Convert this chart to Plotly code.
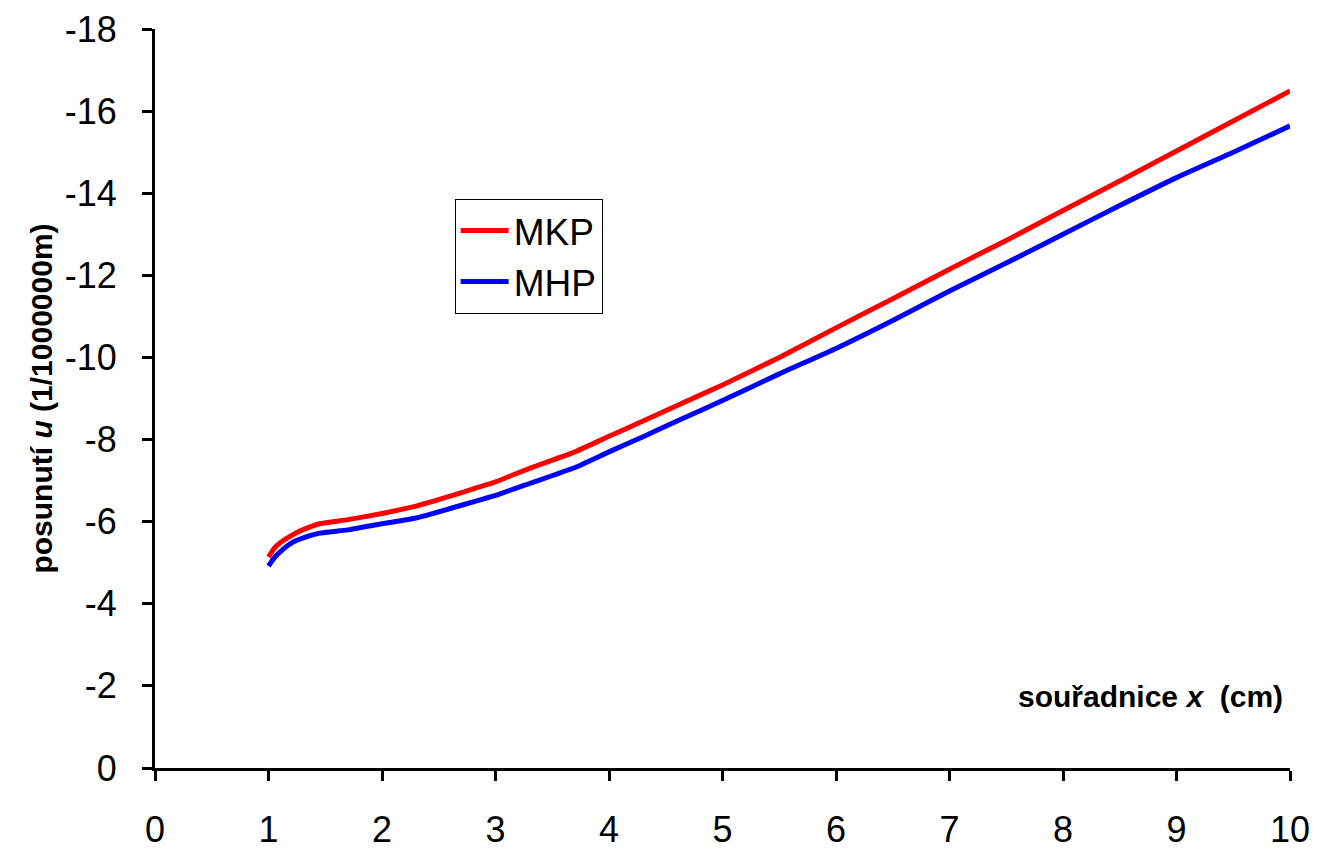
import plotly.graph_objects as go

# data
x_mkp = [1.0, 1.05, 1.1, 1.2, 1.3, 1.45, 1.7, 2.0, 2.3, 2.6, 2.85, 3.0, 3.3, 3.7, 4.0, 4.3, 4.6,
         5.0, 5.5, 6.0, 6.5, 7.0, 7.5, 8.0, 8.5, 9.0, 9.5, 10.0]
u_mkp = [-5.14, -5.35, -5.48, -5.66, -5.80, -5.95, -6.05, -6.20, -6.38, -6.62, -6.84, -6.97, -7.30,
         -7.70, -8.08, -8.45, -8.83, -9.33, -10.00, -10.72, -11.43, -12.15, -12.85, -13.58, -14.30,
         -15.03, -15.76, -16.49]
x_mhp = [1.0, 1.05, 1.1, 1.2, 1.3, 1.45, 1.7, 2.0, 2.3, 2.6, 2.85, 3.0, 3.3, 3.7, 4.0, 4.3, 4.6,
         5.0, 5.5, 6.0, 6.5, 7.0, 7.5, 8.0, 8.5, 9.0, 9.5, 10.0]
u_mhp = [-4.92, -5.12, -5.26, -5.48, -5.60, -5.72, -5.80, -5.95, -6.09, -6.32, -6.52, -6.64, -6.93,
         -7.32, -7.70, -8.07, -8.45, -8.95, -9.60, -10.22, -10.90, -11.62, -12.30, -13.00, -13.70,
         -14.38, -15.00, -15.64]

x_ticks = [0, 1, 2, 3, 4, 5, 6, 7, 8, 9, 10]
y_ticks = [0, -2, -4, -6, -8, -10, -12, -14, -16, -18]
y_ticktext = ["0", "-2", "-4", "-6", "-8", "-10", "-12", "-14", "-16", "-18"]

FONT = "Liberation Sans, Arial, sans-serif"

fig = go.Figure()
fig.add_trace(go.Scatter(x=x_mkp, y=u_mkp, mode="lines", name="MKP",
                         line=dict(color="#FF0000", width=5, shape="spline", smoothing=0.5)))
fig.add_trace(go.Scatter(x=x_mhp, y=u_mhp, mode="lines", name="MHP",
                         line=dict(color="#0000FF", width=5, shape="spline", smoothing=0.5)))

fig.update_layout(
    width=1317, height=849,
    margin=dict(l=155, r=27, t=29, b=81, autoexpand=False),
    paper_bgcolor="white", plot_bgcolor="white",
    font=dict(family=FONT, color="black", size=36),
    showlegend=True,
    legend=dict(x=0.264, y=0.77, xanchor="left", yanchor="top",
                bordercolor="black", borderwidth=1, bgcolor="white",
                font=dict(size=37, family=FONT), tracegroupgap=0,
                itemwidth=48),
    xaxis=dict(range=[0, 10], tickmode="array", tickvals=x_ticks, automargin=False,
               showgrid=False, zeroline=False, showline=True, linecolor="black",
               linewidth=3, ticks="outside", ticklen=10, tickwidth=3, tickcolor="black",
               tickfont=dict(size=36), ticklabelstandoff=18),
    yaxis=dict(range=[0, -18], tickmode="array", tickvals=y_ticks, ticktext=y_ticktext,
               automargin=False,
               showgrid=False, zeroline=False, showline=True, linecolor="black",
               linewidth=3, ticks="outside", ticklen=10, tickwidth=3, tickcolor="black",
               tickfont=dict(size=36), ticklabelstandoff=18),
    annotations=[
        dict(text="souřadnice <i>x</i>  (cm)", xref="paper", yref="y", x=1.0, y=-1.75,
             xanchor="right", yanchor="middle", xshift=-5, showarrow=False,
             font=dict(size=30, family=FONT, weight="bold")),
        dict(text="posunutí <i>u</i> (1/1000000m)", xref="paper", yref="paper",
             x=-0.1004, y=0.5, xanchor="center", yanchor="middle", textangle=-90,
             showarrow=False, font=dict(size=30, family=FONT, weight="bold")),
    ],
)

fig.write_html("out.html", config={"displayModeBar": False},
               post_script="document.body.style.margin='0';document.body.style.overflow='hidden';")
